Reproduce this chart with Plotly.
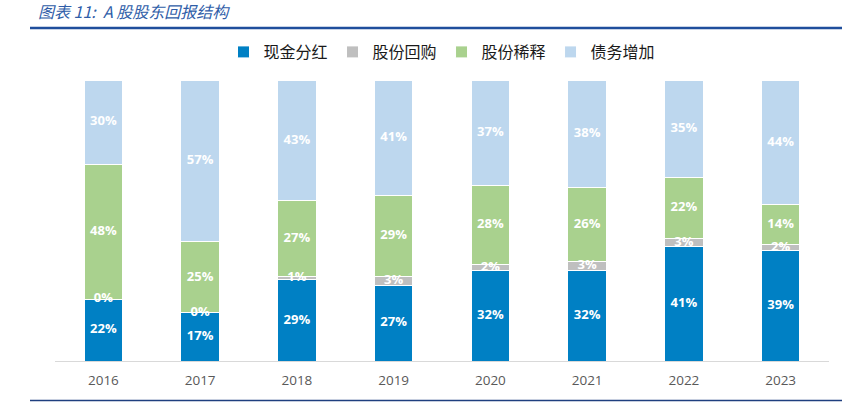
import plotly.graph_objects as go

years = ["2016", "2017", "2018", "2019", "2020", "2021", "2022", "2023"]
cash_dividend = [22, 17, 29, 27, 32, 32, 41, 39]
buyback = [0, 0, 1, 3, 2, 3, 3, 2]
dilution = [48, 25, 27, 29, 28, 26, 22, 14]
debt_increase = [30, 57, 43, 41, 37, 38, 35, 44]

series_names = ["现金分红", "股份回购", "股份稀释", "债务增加"]
series_values = [cash_dividend, buyback, dilution, debt_increase]
colors = ["#0080C4", "#BFBFBF", "#A9D18E", "#BDD7EE"]

W, H = 842, 402
ML, MR, MT, MB = 55, 13, 80, 41
PW = W - ML - MR
PH = H - MT - MB

def px_to_paper_x(px):
    return (px - ML) / PW

def px_to_paper_y(py):
    return (H - MB - py) / PH

fig = go.Figure()
for name, vals, col in zip(series_names, series_values, colors):
    fig.add_trace(go.Bar(
        x=years, y=vals, name=name,
        marker=dict(color=col, line=dict(color="white", width=1)),
        hoverinfo="skip",
    ))

# labels at the middle of each (normalised) segment
lab_x, lab_y, lab_t = [], [], []
for i, yr in enumerate(years):
    total = sum(v[i] for v in series_values)
    cum = 0
    for vals in series_values:
        v = vals[i]
        mid = (cum + v / 2) / total * 100
        cum += v
        lab_x.append(yr)
        lab_y.append(mid)
        lab_t.append(f"{v}%")

fig.add_trace(go.Scatter(
    x=lab_x, y=lab_y, text=lab_t, mode="text",
    textfont=dict(family="Open Sans", size=13, color="white", weight="bold"),
    showlegend=False, hoverinfo="skip", cliponaxis=False,
))

fig.update_layout(
    width=W, height=H,
    margin=dict(l=ML, r=MR, t=MT, b=MB, autoexpand=False),
    paper_bgcolor="white", plot_bgcolor="white",
    barmode="stack", barnorm="percent", bargap=0.6,
    showlegend=True,
    legend=dict(
        orientation="h", x=0.5, xanchor="center",
        y=px_to_paper_y(52), yanchor="middle",
        font=dict(family="Noto Sans CJK SC", size=16, color="#1A1A1A"),
        itemwidth=30, traceorder="normal",
    ),
    xaxis=dict(
        showgrid=False, showline=True, linecolor="#D9D9D9", linewidth=1,
        ticks="", tickfont=dict(family="Open Sans", size=13.5, color="#595959"),
        ticklabelstandoff=7,
    ),
    yaxis=dict(visible=False, range=[0, 100], showgrid=False),
    title=dict(
        text="图表 11:  A 股股东回报结构",
        x=38 / W, xanchor="left", y=1 - 12.5 / H, yanchor="middle",
        font=dict(family="Noto Sans CJK SC", size=16, color="#2F5DA8", style="italic"),
    ),
    shapes=[
        dict(type="line", xref="paper", yref="paper",
             x0=px_to_paper_x(30), x1=px_to_paper_x(842),
             y0=px_to_paper_y(28), y1=px_to_paper_y(28),
             line=dict(color="#1F4E9C", width=2.5)),
        dict(type="line", xref="paper", yref="paper",
             x0=px_to_paper_x(30), x1=px_to_paper_x(842),
             y0=px_to_paper_y(400.5), y1=px_to_paper_y(400.5),
             line=dict(color="#1F3F7F", width=1.5)),
    ],
)

fig.write_html("out.html",
               config={"displayModeBar": False},
               post_script="document.body.style.margin='0';document.body.style.padding='0';")
